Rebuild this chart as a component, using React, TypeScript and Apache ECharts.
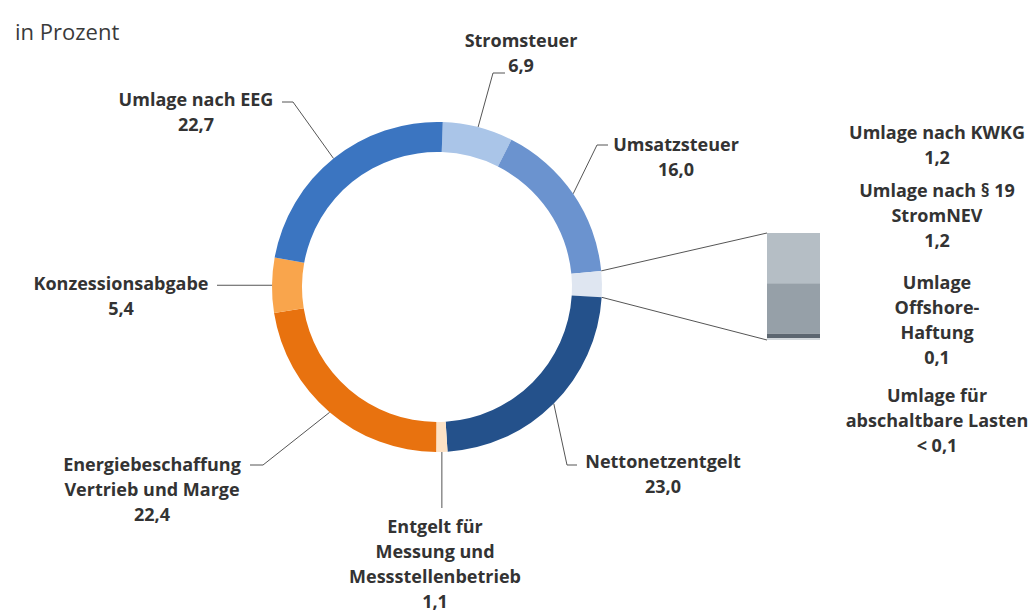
import React, { useEffect, useRef } from 'react';
import * as echarts from 'echarts';

// ---------- data ----------
const TITLE = 'in Prozent';

const MAIN_NAMES = [
  'Stromsteuer',
  'Umsatzsteuer',
  'Weitere Umlagen',
  'Nettonetzentgelt',
  'Entgelt für\nMessung und\nMessstellenbetrieb',
  'Energiebeschaffung\nVertrieb und Marge',
  'Konzessionsabgabe',
  'Umlage nach EEG',
];
// value of the "Weitere Umlagen" slice is the sum of the sub values below
const MAIN_VALUES: (number | null)[] = [6.9, 16.0, null, 23.0, 1.1, 22.4, 5.4, 22.7];
const GROUP_INDEX = 2;

const SUB_NAMES = [
  'Umlage nach KWKG',
  'Umlage nach § 19\nStromNEV',
  'Umlage\nOffshore-\nHaftung',
  'Umlage für\nabschaltbare Lasten',
];
const SUB_VALUES = [1.2, 1.2, 0.1, 0.05];
const SUB_LABELS = ['1,2', '1,2', '0,1', '< 0,1'];

// ---------- styles / layout ----------
const MAIN_COLORS = ['#aac5e8', '#6b93cf', '#dfe6f1', '#24518b', '#fde2c5', '#e8720f', '#f9a54c', '#3b75c1'];
const SUB_COLORS = ['#b5bec5', '#96a0a8', '#5c6670', '#d3d8dc'];

const FONT = '"Open Sans", "Noto Sans", sans-serif';
const TEXT_COLOR = '#333333';
const LINE_COLOR = '#555555';

const CX = 437;
const CY = 287;
const R_IN = 135;
const R_OUT = 165;
const START_ANGLE = 88;

const GRID = { left: 767, top: 233, width: 53, height: 107 };
const SUB_TEXT_X = 937;
const SUB_TEXT_TOPS = [119, 177, 269, 382];
const LH = 25;

// label anchor (text center x, text top y) and bend points of the leader lines
type LabelCfg = { x: number; y: number; pts: (start: number[]) => number[][] };
const LABEL_LAYOUT: Record<number, LabelCfg> = {
  0: { x: 521, y: 27, pts: (s) => [s, [493, 73], [505, 73]] },
  1: { x: 676, y: 131, pts: (s) => [s, [597, 145], [608, 145]] },
  3: { x: 663, y: 448, pts: (s) => [s, [567, 465], [577, 465]] },
  4: { x: 435, y: 513, pts: (s) => [s, [s[0], 508], [s[0], 508]] },
  5: { x: 152, y: 451, pts: (s) => [s, [263, 465], [250, 465]] },
  6: { x: 121, y: 270, pts: (s) => [s, [217, s[1]], [217, s[1]]] },
  7: { x: 196, y: 86, pts: (s) => [s, [293, 102], [282, 102]] },
};

const fmt = (v: number) => v.toFixed(1).replace('.', ',');

export default function App() {
  const ref = useRef<HTMLDivElement>(null);

  useEffect(() => {
    if (!ref.current) return;
    const chart = echarts.init(ref.current, undefined, { renderer: 'svg' });

    const subSum = SUB_VALUES.reduce((a, b) => a + b, 0);
    const pieValues = MAIN_VALUES.map((v, i) => (i === GROUP_INDEX ? subSum : (v as number)));
    const total = pieValues.reduce((a, b) => a + b, 0);

    const pieData = MAIN_NAMES.map((name, i) => ({
      name,
      value: pieValues[i],
      itemStyle: { color: MAIN_COLORS[i] },
      label: { show: i !== GROUP_INDEX },
      labelLine: { show: i !== GROUP_INDEX },
    }));

    const barSeries = SUB_NAMES.map((name, i) => ({
      type: 'bar',
      name,
      stack: 'sub',
      xAxisIndex: 0,
      yAxisIndex: 0,
      barWidth: '100%',
      itemStyle: { color: SUB_COLORS[i] },
      data: [SUB_VALUES[i]],
      silent: true,
    }));

    const subTexts = SUB_NAMES.map((name, i) => ({
      type: 'text',
      x: SUB_TEXT_X,
      y: SUB_TEXT_TOPS[i],
      style: {
        text: `${name}\n${SUB_LABELS[i]}`,
        align: 'center',
        verticalAlign: 'top',
        fontSize: 18,
        fontWeight: 'bold',
        fontFamily: FONT,
        lineHeight: LH,
        fill: TEXT_COLOR,
      },
    }));

    chart.setOption({
      animation: false,
      backgroundColor: '#ffffff',
      title: {
        text: TITLE,
        left: 10,
        top: 15,
        textStyle: { fontSize: 22, fontWeight: 'normal', fontFamily: FONT, color: '#3a3a3a' },
      },
      grid: { ...GRID, containLabel: false },
      xAxis: { type: 'category', data: [''], show: false },
      yAxis: { type: 'value', min: 0, max: subSum, inverse: true, show: false },
      series: [
        {
          type: 'pie',
          center: [CX, CY],
          radius: [R_IN, R_OUT],
          startAngle: START_ANGLE,
          clockwise: true,
          avoidLabelOverlap: false,
          silent: true,
          data: pieData,
          label: {
            show: true,
            position: 'outside',
            formatter: (p: any) => `${p.name}\n${fmt(p.value)}`,
            fontSize: 18,
            fontWeight: 'bold',
            fontFamily: FONT,
            lineHeight: LH,
            color: TEXT_COLOR,
            align: 'center',
          },
          labelLine: {
            show: true,
            length: 20,
            length2: 10,
            lineStyle: { color: LINE_COLOR, width: 1 },
          },
          labelLayout: (params: any) => {
            const cfg = LABEL_LAYOUT[params.dataIndex];
            if (!cfg) return {};
            const pts = params.labelLinePoints;
            const start = pts && pts[0] ? [pts[0][0], pts[0][1]] : [CX, CY];
            return {
              x: cfg.x,
              y: cfg.y,
              align: 'center',
              verticalAlign: 'top',
              labelLinePoints: cfg.pts(start),
            };
          },
        },
        ...barSeries,
      ],
      graphic: subTexts,
    });

    // connector lines from the small slice to the stacked bar
    const before = pieValues.slice(0, GROUP_INDEX).reduce((a, b) => a + b, 0);
    const a0 = ((90 - START_ANGLE) + (before / total) * 360) * Math.PI / 180;
    const a1 = a0 + (subSum / total) * 2 * Math.PI;
    const p0 = [CX + R_OUT * Math.sin(a0), CY - R_OUT * Math.cos(a0)];
    const p1 = [CX + R_OUT * Math.sin(a1), CY - R_OUT * Math.cos(a1)];
    const yTop = chart.convertToPixel({ gridIndex: 0 }, [0, 0])[1];
    const yBot = chart.convertToPixel({ gridIndex: 0 }, [0, subSum])[1];

    chart.setOption({
      graphic: [
        ...subTexts,
        {
          type: 'line',
          shape: { x1: p0[0], y1: p0[1], x2: GRID.left, y2: yTop },
          style: { stroke: LINE_COLOR, lineWidth: 1 },
        },
        {
          type: 'line',
          shape: { x1: p1[0], y1: p1[1], x2: GRID.left, y2: yBot },
          style: { stroke: LINE_COLOR, lineWidth: 1 },
        },
      ],
    });

    return () => chart.dispose();
  }, []);

  return (
    <div
      ref={ref}
      style={{ position: 'fixed', left: 0, top: 0, width: 1033, height: 614, background: '#fff' }}
    />
  );
}
